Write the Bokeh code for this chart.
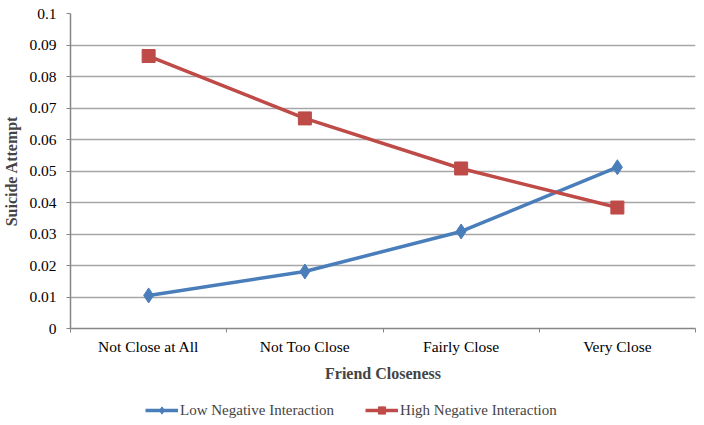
from bokeh.plotting import figure
from bokeh.models import (Range1d, FixedTicker, CustomJSTickFormatter, Legend, LegendItem,
                          ColumnDataSource)
from bokeh.layouts import column
from bokeh.embed import file_html
from bokeh.resources import INLINE

categories = ["Not Close at All", "Not Too Close", "Fairly Close", "Very Close"]
low_negative = [0.0105, 0.0181, 0.0308, 0.0512]
high_negative = [0.0865, 0.0667, 0.0508, 0.0384]
y_ticks = [0, 0.01, 0.02, 0.03, 0.04, 0.05, 0.06, 0.07, 0.08, 0.09, 0.1]

FONT = "Liberation Serif"
BLUE = "#4A7EBB"
RED = "#BE4B48"
GRID = "#A6A6A6"
AXIS = "#868686"

xpos = [i + 0.5 for i in range(len(categories))]
src = ColumnDataSource(dict(x=xpos, low=low_negative, high=high_negative))

p = figure(width=704, height=387, output_backend="svg", toolbar_location=None,
           x_range=Range1d(0, len(categories)), y_range=Range1d(0, 0.1))
p.min_border_left = 69
p.min_border_right = 9
p.min_border_top = 13
p.min_border_bottom = 59
p.outline_line_color = None

# x axis
p.xaxis.ticker = FixedTicker(ticks=xpos, minor_ticks=list(range(len(categories) + 1)))
p.xaxis.major_label_overrides = {x: c for x, c in zip(xpos, categories)}
p.xaxis.major_tick_out = 0
p.xaxis.major_tick_in = 0
p.xaxis.minor_tick_out = 4
p.xaxis.minor_tick_in = 0
p.xaxis.minor_tick_line_color = AXIS
p.xaxis.axis_line_color = AXIS
p.xaxis.axis_line_width = 1.5
p.xaxis.major_label_standoff = 5
p.xaxis.axis_label = "Friend Closeness"
p.xaxis.axis_label_standoff = 7
p.xaxis.axis_label_text_font = FONT
p.xaxis.axis_label_text_font_size = "16px"
p.xaxis.axis_label_text_font_style = "bold"
p.xaxis.major_label_text_font = FONT
p.xaxis.major_label_text_font_size = "15.5px"
p.xaxis.major_label_text_color = "black"
p.xgrid.visible = False

# y axis
p.yaxis.ticker = FixedTicker(ticks=y_ticks, minor_ticks=[])
p.yaxis.formatter = CustomJSTickFormatter(code="return String(Number(tick.toFixed(2)));")
p.yaxis.major_tick_out = 4
p.yaxis.major_tick_in = 0
p.yaxis.major_tick_line_color = AXIS
p.yaxis.axis_line_color = AXIS
p.yaxis.axis_line_width = 1.5
p.yaxis.major_label_standoff = 10
p.yaxis.axis_label = "Suicide Attempt"
p.yaxis.axis_label_standoff = 6
p.yaxis.axis_label_text_font = FONT
p.yaxis.axis_label_text_font_size = "16px"
p.yaxis.axis_label_text_font_style = "bold"
p.yaxis.major_label_text_font = FONT
p.yaxis.major_label_text_font_size = "15.5px"
p.yaxis.major_label_text_color = "black"
p.ygrid.grid_line_color = GRID
p.ygrid.grid_line_width = 1.5
p.ygrid.ticker = FixedTicker(ticks=y_ticks)

p.line("x", "low", source=src, line_color=BLUE, line_width=3.5)
p.scatter("x", "low", source=src, marker="diamond", size=15, fill_color=BLUE, line_color=BLUE)
p.line("x", "high", source=src, line_color=RED, line_width=3.5)
p.scatter("x", "high", source=src, marker="square", size=13, fill_color=RED, line_color=RED)

# legend strip (a second figure; its glyphs lie outside its view, only the legend shows)
lg = figure(width=704, height=36, output_backend="svg", toolbar_location=None,
            x_range=Range1d(100, 101), y_range=Range1d(100, 101))
lg.axis.visible = False
lg.grid.visible = False
lg.outline_line_color = None
lg.min_border = 0
l1 = lg.line("x", "low", source=src, line_color=BLUE, line_width=3.5)
m1 = lg.scatter("x", "low", source=src, marker="diamond", size=12, fill_color=BLUE, line_color=BLUE)
l2 = lg.line("x", "high", source=src, line_color=RED, line_width=3.5)
m2 = lg.scatter("x", "high", source=src, marker="square", size=11, fill_color=RED, line_color=RED)

legend = Legend(items=[
    LegendItem(label="Low Negative Interaction", renderers=[l1, m1]),
    LegendItem(label="High Negative Interaction", renderers=[l2, m2]),
], orientation="horizontal", location=(75, 4))
legend.label_text_font = FONT
legend.label_text_font_size = "15px"
legend.glyph_width = 33
legend.glyph_height = 18
legend.spacing = 31
legend.label_standoff = 2
legend.border_line_color = None
legend.background_fill_alpha = 0
legend.padding = 2
legend.margin = 0
lg.add_layout(legend, "center")

layout = column(p, lg, spacing=0)
open("out.html", "w").write(file_html(layout, INLINE))
